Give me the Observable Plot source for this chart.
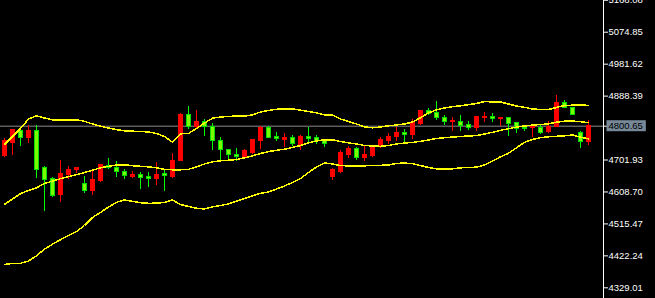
<!DOCTYPE html>
<html><head><meta charset="utf-8">
<script src="https://cdn.jsdelivr.net/npm/d3@7"></script>
<script src="https://cdn.jsdelivr.net/npm/@observablehq/plot@0.6"></script>
<style>html,body{margin:0;padding:0;background:#000;overflow:hidden}</style>
</head><body><div id="chart"></div>
<script>
const opens=[4712.2,4751.0,4787.2,4765.6,4785.2,4677.2,4646.0,4598.4,4659.6,4672.2,
4630.5,4611.0,4640.1,4685.9,4679.2,4668.4,4653.8,4659.6,4650.9,4645.9,
4660.5,4653.8,4698.5,4834.7,4799.7,4814.3,4799.7,4758.0,4731.7,4718.0,
4710.1,4723.0,4756.0,4793.9,4770.5,4760.9,4767.6,4746.3,4770.5,4764.7,
4760.9,4653.8,4667.5,4718.0,4735.5,4706.4,4713.1,4743.4,4756.0,4768.5,
4779.3,4774.3,4805.6,4845.5,4837.7,4824.0,4811.4,4814.3,4803.5,4794.8,
4824.0,4826.0,4820.2,4823.1,4808.5,4793.9,4793.9,4794.8,4783.1,4796.8,
4868.9,4854.3,4781.4,4753.9];
const closes=[4756.9,4788.1,4765.6,4785.2,4674.2,4643.0,4597.5,4662.5,4674.2,4677.2,
4611.0,4643.0,4686.8,4678.0,4666.4,4654.7,4659.6,4648.0,4647.1,4659.6,
4654.7,4700.5,4834.7,4797.7,4814.3,4797.7,4756.9,4729.7,4715.1,4709.3,
4727.6,4758.9,4794.8,4767.6,4761.8,4766.8,4748.1,4770.5,4762.7,4756.9,
4748.1,4672.2,4721.0,4735.5,4706.4,4715.1,4740.5,4758.9,4770.5,4779.3,
4775.5,4808.5,4846.4,4835.6,4824.0,4812.3,4815.2,4800.6,4793.9,4826.0,
4826.0,4821.0,4823.1,4805.6,4791.8,4791.8,4796.8,4782.2,4799.7,4868.9,
4854.3,4832.7,4753.9,4800.65];
const highs=[4763.9,4791.0,4794.8,4801.8,4801.8,4682.1,4650.1,4700.5,4683.0,4681.0,
4653.8,4673.3,4688.8,4706.4,4697.6,4673.3,4668.4,4665.5,4665.5,4694.7,
4673.3,4720.9,4836.8,4858.1,4846.4,4819.3,4807.6,4767.6,4733.0,4735.5,
4731.7,4760.0,4799.7,4800.6,4782.2,4779.3,4773.5,4772.6,4796.8,4773.5,
4762.0,4676.3,4729.7,4741.4,4738.5,4744.3,4741.5,4767.6,4779.3,4796.8,
4791.0,4820.2,4847.5,4852.3,4872.7,4831.8,4825.1,4831.8,4814.3,4828.9,
4840.6,4837.7,4824.0,4825.1,4810.5,4800.6,4802.7,4806.5,4814.3,4890.2,
4875.6,4856.1,4784.3,4817.2];
const lows=[4710.1,4715.1,4742.3,4751.0,4648.8,4552.6,4593.4,4578.8,4644.2,4663.4,
4605.1,4598.4,4637.2,4675.1,4650.9,4645.9,4647.1,4616.8,4622.6,4628.5,
4609.2,4647.1,4696.7,4790.1,4790.1,4771.4,4729.7,4700.5,4700.5,4698.5,
4703.4,4717.1,4732.6,4765.6,4756.0,4737.6,4742.3,4729.7,4753.0,4747.2,
4738.5,4642.2,4662.5,4706.4,4701.4,4697.6,4709.3,4734.7,4747.2,4756.0,
4750.1,4761.8,4802.7,4831.8,4818.1,4802.7,4786.0,4786.0,4788.9,4785.2,
4811.4,4812.3,4799.7,4770.5,4780.2,4785.2,4768.5,4776.4,4780.2,4796.8,
4851.4,4831.8,4736.4,4745.2];
const upperBand=[4747.2,4770.6,4793.9,4821.6,4831.0,4824.5,4819.3,4819.3,4819.3,4819.3,
4814.9,4807.0,4800.6,4795.4,4790.4,4787.2,4786.0,4785.1,4783.7,4779.3,
4770.6,4753.9,4778.4,4779.3,4793.9,4809.9,4824.0,4827.5,4828.9,4830.4,
4829.8,4833.9,4842.0,4846.4,4849.9,4851.4,4851.4,4847.3,4843.5,4839.7,
4833.3,4833.3,4821.6,4814.3,4807.0,4798.9,4795.9,4798.3,4801.8,4804.1,
4807.0,4812.9,4825.4,4839.1,4848.5,4853.7,4857.5,4860.1,4863.3,4866.8,
4872.7,4871.2,4871.2,4865.4,4859.6,4855.8,4850.8,4849.3,4849.3,4855.2,
4861.0,4861.9,4863.1,4861.0];
const midBand=[4572.7,4588.2,4603.7,4613.0,4620.9,4633.4,4640.4,4647.4,4653.2,4659.1,
4665.5,4672.2,4679.2,4683.6,4687.4,4688.0,4685.3,4683.6,4681.8,4679.2,
4674.5,4673.4,4673.4,4674.8,4682.1,4690.3,4696.7,4699.6,4701.4,4703.4,
4708.4,4714.2,4720.9,4726.5,4730.3,4733.5,4738.5,4744.3,4752.2,4757.7,
4760.9,4760.9,4755.7,4751.9,4748.7,4744.3,4742.8,4741.9,4744.3,4749.0,
4751.3,4753.3,4756.5,4760.3,4764.7,4767.1,4768.8,4770.6,4772.0,4773.2,
4777.6,4782.8,4788.6,4793.3,4798.0,4801.2,4803.8,4805.6,4807.3,4812.6,
4815.2,4815.5,4813.7,4810.8];
const lowerBand=[4397.0,4400.0,4400.5,4407.2,4422.4,4441.7,4456.3,4469.4,4481.7,4493.3,
4510.8,4534.2,4548.8,4564.8,4578.5,4585.3,4581.5,4577.4,4575.6,4575.9,
4578.0,4585.3,4572.1,4566.3,4561.1,4559.0,4565.4,4569.2,4573.6,4582.0,
4589.9,4597.5,4604.8,4608.6,4617.4,4626.1,4636.3,4648.0,4665.5,4681.6,
4693.2,4690.3,4685.9,4684.5,4684.2,4685.0,4685.9,4686.5,4687.4,4691.8,
4693.2,4691.2,4685.9,4680.1,4676.3,4676.3,4676.3,4679.1,4680.1,4681.0,
4687.4,4699.1,4711.3,4721.5,4737.6,4753.6,4761.8,4767.1,4769.7,4771.2,
4772.6,4775.0,4768.6,4763.9];
const tickValues=[5168.08,5074.85,4981.62,4888.39,4701.93,4608.70,4515.47,4422.24,4329.01];
const lastPrice=closes[closes.length-1];

const candles=opens.map((o,i)=>({i,open:o,close:closes[i],high:highs[i],low:lows[i],up:closes[i]>=o}));
const bands=opens.map((_,i)=>({i,upper:upperBand[i],mid:midBand[i],lower:lowerBand[i]}));

const xDomain=[-0.5,74.875];
const yDomain=[4297.8,5167.4];

const chart=Plot.plot({
  width:655,height:298,
  marginLeft:0,marginRight:52,marginTop:0,marginBottom:0,
  style:{background:"#000",color:"#fff",fontFamily:"'Liberation Sans', Arial, sans-serif",fontSize:"9.5px"},
  x:{domain:xDomain,axis:null},
  y:{domain:yDomain,axis:"right",ticks:[...tickValues,lastPrice],tickSize:4,tickPadding:1,
     tickFormat:d=>d===lastPrice?"":d.toFixed(2),line:true,label:null},
  marks:[
    Plot.ruleY([lastPrice],{stroke:"#8c8c8c"}),
    Plot.ruleX(candles,{x:"i",y1:"low",y2:"high",stroke:d=>d.up?"#ff0000":"#00ff00",shapeRendering:"crispEdges"}),
    Plot.rect(candles,{x1:d=>d.i-0.25,x2:d=>d.i+0.25,y1:"open",y2:"close",
      fill:d=>d.up?"#ff0000":"#7cfc00",stroke:d=>d.up?"#ff0000":"#00e000",shapeRendering:"crispEdges"}),
    Plot.line(bands,{x:"i",y:"upper",stroke:"#ffff00",shapeRendering:"crispEdges"}),
    Plot.line(bands,{x:"i",y:"mid",stroke:"#ffff00",shapeRendering:"crispEdges"}),
    Plot.line(bands,{x:"i",y:"lower",stroke:"#ffff00",shapeRendering:"crispEdges"}),
    Plot.text([lastPrice],{x:xDomain[1],y:d=>d,dx:5,textAnchor:"start",fill:"#000",
      fontSize:9.5,text:d=>d.toFixed(2)})
  ]
});
document.getElementById("chart").appendChild(chart);

const label=lastPrice.toFixed(2);
d3.select(chart).selectAll("text").filter(function(){return this.textContent===label;}).each(function(){
  const bb=this.getBBox();
  d3.select(this.parentNode).insert("rect",()=>this)
    .attr("transform",this.getAttribute("transform"))
    .attr("x",bb.x-2).attr("y",bb.y+bb.height/2-5.5)
    .attr("width",bb.width+5).attr("height",11)
    .attr("fill","#778899");
});
</script>
</body></html>
